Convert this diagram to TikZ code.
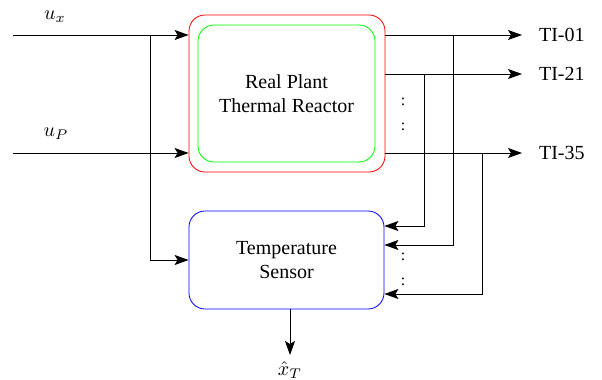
\documentclass[tikz,border=0pt]{standalone}
\usepackage{fontspec}
\setmainfont{Liberation Serif}
\usetikzlibrary{positioning, arrows.meta, calc}

\begin{document}
\begin{tikzpicture}[x=0.5pt,y=-0.5pt,blk/.style={rounded corners=8pt, align=center, inner sep=0pt},sig/.style={-{Stealth[length=7pt,width=5pt,inset=1.5pt]}},lbl/.style={inner sep=2pt},dts/.style={align=center, inner sep=0pt, font=\footnotesize}]
\useasboundingbox (0,0) rectangle (602,380);
\node[blk, draw=red, minimum width=98pt, minimum height=78.5pt] (plant) at (287,93.5) {};
\node[blk, draw=green, minimum width=88.5pt, minimum height=68.5pt] (plantin) at (286.5,93.5) {Real Plant\\Thermal Reactor};
\node[blk, draw=blue, minimum width=97.5pt, minimum height=49pt] (sensor) at (286.5,260) {Temperature\\Sensor};
% inputs
\coordinate (ux) at (13,35); \coordinate (up) at (13,153); \coordinate (br) at (150,35);
\node[lbl] at (55,17) {$u_x$}; \node[lbl] at (56,134) {$u_P$};
\draw[sig] (ux)--(ux -| plant.west);
\draw[sig] (up)--(up -| plant.west);
\draw[sig] (br) |- (sensor.west);
% outputs
\coordinate (t1) at (522,35); \coordinate (t2) at (522,74); \coordinate (t3) at (522,153);
\draw[sig] (t1 -| plant.east)--(t1) node[right=5pt] {TI-01};
\draw[sig] (t2 -| plant.east)--(t2) node[right=5pt] {TI-21};
\draw[sig] (t3 -| plant.east)--(t3) node[right=5pt] {TI-35};
\node[dts] (dt1) at (403,114) {:\\[3pt]:};
% feedback to sensor
\coordinate (f1) at (453,245); \coordinate (f2) at (424,226); \coordinate (f3) at (482,294);
\draw[sig] (f2 |- t2) |- (sensor.east |- f2);
\draw[sig] (f1 |- t1) |- (sensor.east |- f1);
\draw[sig] (f3 |- t3) |- (sensor.east |- f3);
\node[dts] (dt2) at (403,269) {:\\[3pt]:};
% estimate
\coordinate (xt) at (290,355);
\draw[sig] (xt |- sensor.south)--(xt) node[below=0pt] {$\hat{x}_T$};
\end{tikzpicture}
\end{document}
